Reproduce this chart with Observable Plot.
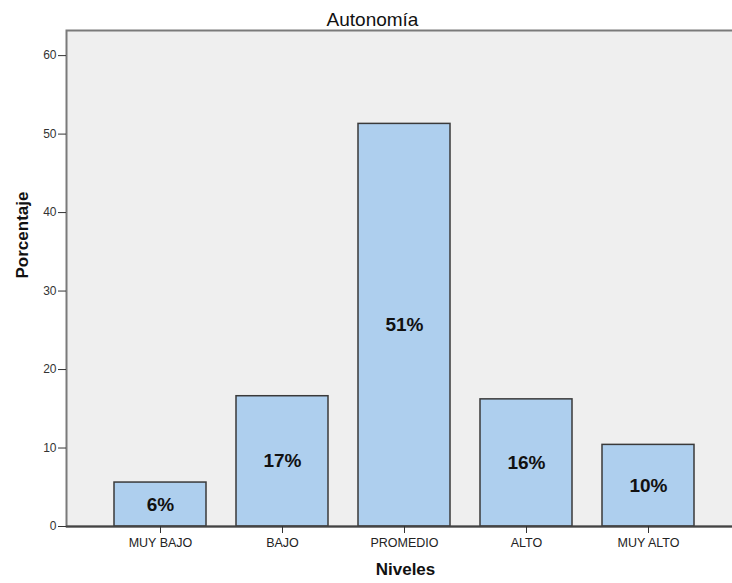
<!DOCTYPE html>
<html>
<head>
<meta charset="utf-8">
<script src="https://cdn.jsdelivr.net/npm/d3@7"></script>
<script src="https://cdn.jsdelivr.net/npm/@observablehq/plot@0.6"></script>
<style>
  html, body { margin: 0; padding: 0; background: #fff; overflow: hidden; }
  #chart { width: 732px; height: 583px; overflow: hidden; }
  #chart svg { display: block; max-width: none !important; width: 744px !important; height: 583px !important; }
</style>
</head>
<body>
<div id="chart"></div>
<script>
const categories = ["MUY BAJO", "BAJO", "PROMEDIO", "ALTO", "MUY ALTO"];
const values = [5.6, 16.6, 51.3, 16.2, 10.4];
const barLabels = ["6%", "17%", "51%", "16%", "10%"];
const yTicks = [0, 10, 20, 30, 40, 50, 60];
const chartTitle = "Autonomía";
const xTitle = "Niveles";
const yTitle = "Porcentaje";

const data = categories.map((c, i) => ({cat: c, value: values[i], label: barLabels[i]}));
const font = "'Liberation Sans', Arial, sans-serif";

const chart = Plot.plot({
  width: 744,
  height: 583,
  marginLeft: 66,
  marginRight: 2,
  marginTop: 30,
  marginBottom: 57,
  style: {fontFamily: font, background: "#fff", color: "#222"},
  x: {domain: categories, range: [99, 709], paddingInner: 0.246, paddingOuter: 0.123, align: 0.5},
  y: {domain: [0, 63.2]},
  marks: [
    Plot.frame({fill: "#efefef", stroke: "#7a7a7a", strokeWidth: 2}),
    Plot.barY(data, {x: "cat", y: "value", fill: "#aecfee", stroke: "#3a3a3a", strokeWidth: 1.5}),
    Plot.text(data, {x: "cat", y: d => d.value / 2, text: "label", fontSize: 19, fontWeight: "bold", fill: "#111"}),
    Plot.ruleY([0], {stroke: "#444", strokeWidth: 2}),
    Plot.axisY({ticks: yTicks, tickSize: 8, tickPadding: 2, fontSize: 12, label: null, stroke: "#333", fill: "#333"}),
    Plot.axisX({tickSize: 7, tickPadding: 5, fontSize: 12.5, label: null, stroke: "#333", fill: "#222"}),
    Plot.text([chartTitle], {x: () => "PROMEDIO", frameAnchor: "top", lineAnchor: "middle", dx: -32, dy: -11, fontSize: 19, fill: "#111", style: "letter-spacing:0.8px"}),
    Plot.text([xTitle], {x: () => "PROMEDIO", frameAnchor: "bottom", lineAnchor: "middle", dx: 1, dy: 43.5, fontSize: 17, fontWeight: "bold", fill: "#111"}),
    Plot.text([yTitle], {frameAnchor: "left", lineAnchor: "middle", dx: -44, rotate: -90, fontSize: 17, fontWeight: "bold", fill: "#111"})
  ]
});
document.getElementById("chart").append(chart);
</script>
</body>
</html>
